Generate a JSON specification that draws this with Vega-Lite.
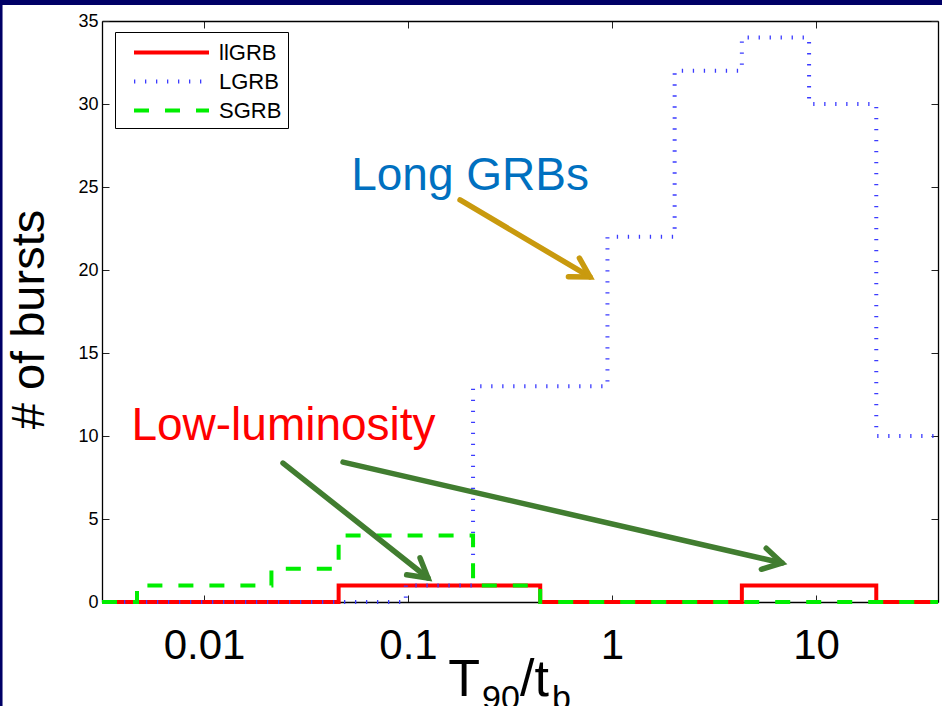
{
  "$schema": "https://vega.github.io/schema/vega-lite/v6.json",
  "width": 836,
  "height": 581,
  "autosize": "none",
  "padding": {"left": 102, "top": 21, "right": 4, "bottom": 104},
  "background": "#ffffff",
  "config": {
    "view": {"stroke": null},
    "font": "Liberation Sans",
    "axis": {
      "grid": false,
      "domainColor": "#000000",
      "domainWidth": 1.3,
      "tickColor": "#222222",
      "tickWidth": 1,
      "tickSize": -7,
      "labelColor": "#000000",
      "labelFont": "Liberation Sans"
    }
  },
  "datasets": {
    "hist": [
      {"series": "llGRB", "x": 0.003162, "count": 0},
      {"series": "llGRB", "x": 0.04569, "count": 1},
      {"series": "llGRB", "x": 0.4446, "count": 0},
      {"series": "llGRB", "x": 4.328, "count": 1},
      {"series": "llGRB", "x": 19.73, "count": 0},
      {"series": "llGRB", "x": 39.6, "count": 0},
      {"series": "LGRB", "x": 0.003162, "count": 0},
      {"series": "LGRB", "x": 0.09754, "count": 1},
      {"series": "LGRB", "x": 0.2083, "count": 13},
      {"series": "LGRB", "x": 0.9495, "count": 22},
      {"series": "LGRB", "x": 2.027, "count": 32},
      {"series": "LGRB", "x": 4.328, "count": 34},
      {"series": "LGRB", "x": 9.242, "count": 30},
      {"series": "LGRB", "x": 19.73, "count": 10},
      {"series": "LGRB", "x": 39.6, "count": 10},
      {"series": "SGRB", "x": 0.003162, "count": 0},
      {"series": "SGRB", "x": 0.004694, "count": 1},
      {"series": "SGRB", "x": 0.0214, "count": 2},
      {"series": "SGRB", "x": 0.04569, "count": 4},
      {"series": "SGRB", "x": 0.2083, "count": 1},
      {"series": "SGRB", "x": 0.4446, "count": 0},
      {"series": "SGRB", "x": 39.6, "count": 0}
    ],
    "arrows": [
      {"id": "long", "kind": "long", "x": 0.1799, "y": 24.22, "x2": 0.78, "y2": 19.58},
      {"id": "low1", "kind": "low", "x": 0.02439, "y": 8.37, "x2": 0.1253, "y2": 1.446},
      {"id": "low2", "kind": "low", "x": 0.04801, "y": 8.43, "x2": 6.81, "y2": 2.35}
    ],
    "notes": [
      {"kind": "long", "text": "Long GRBs", "x": 0.2014, "y": 24.82},
      {"kind": "low", "text": "Low-luminosity", "x": 0.02453, "y": 9.76}
    ],
    "xtitle": [
      {"role": "main", "text": "T", "x": 0.1573, "y": -5.66},
      {"role": "sub", "text": "90", "x": 0.2305, "y": -6.46},
      {"role": "main", "text": "/t", "x": 0.354, "y": -5.66},
      {"role": "sub", "text": "b", "x": 0.508, "y": -6.46}
    ]
  },
  "layer": [
    {
      "description": "slide frame, top strip",
      "data": {"values": [{}]},
      "mark": {"type": "rect", "color": "#000066"},
      "encoding": {
        "x": {"datum": 0.0005, "type": "quantitative", "scale": {"type": "log", "domain": [0.003162, 39.6], "nice": false}, "axis": null},
        "x2": {"datum": 1000},
        "y": {"datum": 35.96, "type": "quantitative", "scale": {"domain": [0, 35], "nice": false, "zero": false}, "axis": null},
        "y2": {"datum": 45}
      }
    },
    {
      "description": "slide frame, left strip",
      "data": {"values": [{}]},
      "mark": {"type": "rect", "color": "#000066"},
      "encoding": {
        "x": {"datum": 0.0005, "type": "quantitative", "scale": {"type": "log", "domain": [0.003162, 39.6], "nice": false}, "axis": null},
        "x2": {"datum": 0.001029},
        "y": {"datum": -20, "type": "quantitative", "scale": {"domain": [0, 35], "nice": false, "zero": false}, "axis": null},
        "y2": {"datum": 45}
      }
    },
    {
      "data": {"name": "hist"},
      "mark": {"type": "line", "interpolate": "step-after", "strokeWidth": 4, "strokeCap": "butt"},
      "encoding": {
        "x": {
          "field": "x", "type": "quantitative",
          "scale": {"type": "log", "domain": [0.003162, 39.6], "nice": false},
          "axis": {"values": [0.01, 0.1, 1, 10], "format": "~g", "labelFontSize": 42, "labelPadding": 30, "title": null, "orient": "bottom"}
        },
        "y": {
          "field": "count", "type": "quantitative",
          "scale": {"domain": [0, 35], "nice": false, "zero": false},
          "axis": {
            "values": [0, 5, 10, 15, 20, 25, 30, 35], "labelFontSize": 18, "labelPadding": 11, "orient": "left",
            "title": "# of bursts", "titleFontSize": 47, "titleFontWeight": "normal", "titleFont": "Liberation Sans",
            "titleColor": "#000000", "titleAngle": -90, "titleX": -59, "titleY": 298, "titleAlign": "center", "titleBaseline": "alphabetic"
          }
        },
        "color": {
          "field": "series", "type": "nominal",
          "scale": {"domain": ["llGRB", "LGRB", "SGRB"], "range": ["#ff0000", "#3b3bff", "#00ee00"]},
          "legend": {
            "title": null, "orient": "none", "legendX": 13, "legendY": 11,
            "strokeColor": "#000000", "fillColor": "#ffffff", "padding": 6, "symbolOffset": 11,
            "symbolType": "M-1,0L5,0", "symbolSize": 625, "symbolStrokeWidth": 4,
            "labelFontSize": 22, "labelFont": "Liberation Sans", "labelColor": "#000000", "labelOffset": 58, "rowPadding": 3
          }
        },
        "strokeDash": {
          "field": "series", "type": "nominal",
          "scale": {"domain": ["llGRB", "LGRB", "SGRB"], "range": [[1, 0], [1.3, 9.7], [15, 16]]},
          "legend": {
            "title": null, "orient": "none", "legendX": 13, "legendY": 11,
            "strokeColor": "#000000", "fillColor": "#ffffff", "padding": 6, "symbolOffset": 11,
            "symbolType": "M-1,0L5,0", "symbolSize": 625, "symbolStrokeWidth": 4,
            "labelFontSize": 22, "labelFont": "Liberation Sans", "labelColor": "#000000", "labelOffset": 58, "rowPadding": 3
          }
        }
      }
    },
    {
      "data": {"name": "arrows"},
      "transform": [{"filter": "datum.kind === 'long'"}],
      "mark": {"type": "rule", "color": "#c99a0e", "strokeWidth": 5.5, "strokeCap": "round"},
      "encoding": {
        "x": {
          "field": "x", "type": "quantitative",
          "scale": {"type": "log", "domain": [0.003162, 39.6], "nice": false},
          "axis": {"orient": "top", "values": [0.01, 0.1, 1, 10], "labels": false, "title": null}
        },
        "x2": {"field": "x2"},
        "y": {
          "field": "y", "type": "quantitative",
          "scale": {"domain": [0, 35], "nice": false, "zero": false},
          "axis": {"orient": "right", "values": [0, 5, 10, 15, 20, 25, 30, 35], "labels": false, "title": null}
        },
        "y2": {"field": "y2"}
      }
    },
    {
      "data": {"name": "arrows"},
      "transform": [{"filter": "datum.kind === 'low'"}],
      "mark": {"type": "rule", "color": "#417d30", "strokeWidth": 5.5, "strokeCap": "round"},
      "encoding": {
        "x": {"field": "x", "type": "quantitative", "scale": {"type": "log", "domain": [0.003162, 39.6], "nice": false}, "axis": null},
        "x2": {"field": "x2"},
        "y": {"field": "y", "type": "quantitative", "scale": {"domain": [0, 35], "nice": false, "zero": false}, "axis": null},
        "y2": {"field": "y2"}
      }
    },
    {
      "data": {"name": "arrows"},
      "transform": [{"filter": "datum.id === 'long'"}],
      "mark": {"type": "point", "shape": "M-1,-0.577L0,0L-1,0.577", "filled": false, "color": "#c99a0e", "strokeWidth": 5.5, "strokeJoin": "miter", "strokeCap": "round", "size": 1400, "opacity": 1, "angle": 30.6},
      "encoding": {
        "x": {"field": "x2", "type": "quantitative", "scale": {"type": "log", "domain": [0.003162, 39.6], "nice": false}, "axis": null},
        "y": {"field": "y2", "type": "quantitative", "scale": {"domain": [0, 35], "nice": false, "zero": false}, "axis": null}
      }
    },
    {
      "data": {"name": "arrows"},
      "transform": [{"filter": "datum.id === 'low1'"}],
      "mark": {"type": "point", "shape": "M-1,-0.577L0,0L-1,0.577", "filled": false, "color": "#417d30", "strokeWidth": 5.5, "strokeJoin": "miter", "strokeCap": "round", "size": 1400, "opacity": 1, "angle": 38.4},
      "encoding": {
        "x": {"field": "x2", "type": "quantitative", "scale": {"type": "log", "domain": [0.003162, 39.6], "nice": false}, "axis": null},
        "y": {"field": "y2", "type": "quantitative", "scale": {"domain": [0, 35], "nice": false, "zero": false}, "axis": null}
      }
    },
    {
      "data": {"name": "arrows"},
      "transform": [{"filter": "datum.id === 'low2'"}],
      "mark": {"type": "point", "shape": "M-1,-0.577L0,0L-1,0.577", "filled": false, "color": "#417d30", "strokeWidth": 5.5, "strokeJoin": "miter", "strokeCap": "round", "size": 1400, "opacity": 1, "angle": 13},
      "encoding": {
        "x": {"field": "x2", "type": "quantitative", "scale": {"type": "log", "domain": [0.003162, 39.6], "nice": false}, "axis": null},
        "y": {"field": "y2", "type": "quantitative", "scale": {"domain": [0, 35], "nice": false, "zero": false}, "axis": null}
      }
    },
    {
      "data": {"name": "notes"},
      "transform": [{"filter": "datum.kind === 'long'"}],
      "mark": {"type": "text", "color": "#0070c0", "fontSize": 46, "font": "Liberation Sans", "align": "center", "baseline": "alphabetic"},
      "encoding": {
        "x": {"field": "x", "type": "quantitative", "scale": {"type": "log", "domain": [0.003162, 39.6], "nice": false}, "axis": null},
        "y": {"field": "y", "type": "quantitative", "scale": {"domain": [0, 35], "nice": false, "zero": false}, "axis": null},
        "text": {"field": "text"}
      }
    },
    {
      "data": {"name": "notes"},
      "transform": [{"filter": "datum.kind === 'low'"}],
      "mark": {"type": "text", "color": "#ff0000", "fontSize": 46, "font": "Liberation Sans", "align": "center", "baseline": "alphabetic"},
      "encoding": {
        "x": {"field": "x", "type": "quantitative", "scale": {"type": "log", "domain": [0.003162, 39.6], "nice": false}, "axis": null},
        "y": {"field": "y", "type": "quantitative", "scale": {"domain": [0, 35], "nice": false, "zero": false}, "axis": null},
        "text": {"field": "text"}
      }
    },
    {
      "data": {"name": "xtitle"},
      "transform": [{"filter": "datum.role === 'main'"}],
      "mark": {"type": "text", "color": "#000000", "fontSize": 52, "font": "Liberation Sans", "align": "left", "baseline": "alphabetic"},
      "encoding": {
        "x": {"field": "x", "type": "quantitative", "scale": {"type": "log", "domain": [0.003162, 39.6], "nice": false}, "axis": null},
        "y": {"field": "y", "type": "quantitative", "scale": {"domain": [0, 35], "nice": false, "zero": false}, "axis": null},
        "text": {"field": "text"}
      }
    },
    {
      "data": {"name": "xtitle"},
      "transform": [{"filter": "datum.role === 'sub'"}],
      "mark": {"type": "text", "color": "#000000", "fontSize": 34, "font": "Liberation Sans", "align": "left", "baseline": "alphabetic"},
      "encoding": {
        "x": {"field": "x", "type": "quantitative", "scale": {"type": "log", "domain": [0.003162, 39.6], "nice": false}, "axis": null},
        "y": {"field": "y", "type": "quantitative", "scale": {"domain": [0, 35], "nice": false, "zero": false}, "axis": null},
        "text": {"field": "text"}
      }
    }
  ],
  "resolve": {"axis": {"x": "independent", "y": "independent"}}
}
